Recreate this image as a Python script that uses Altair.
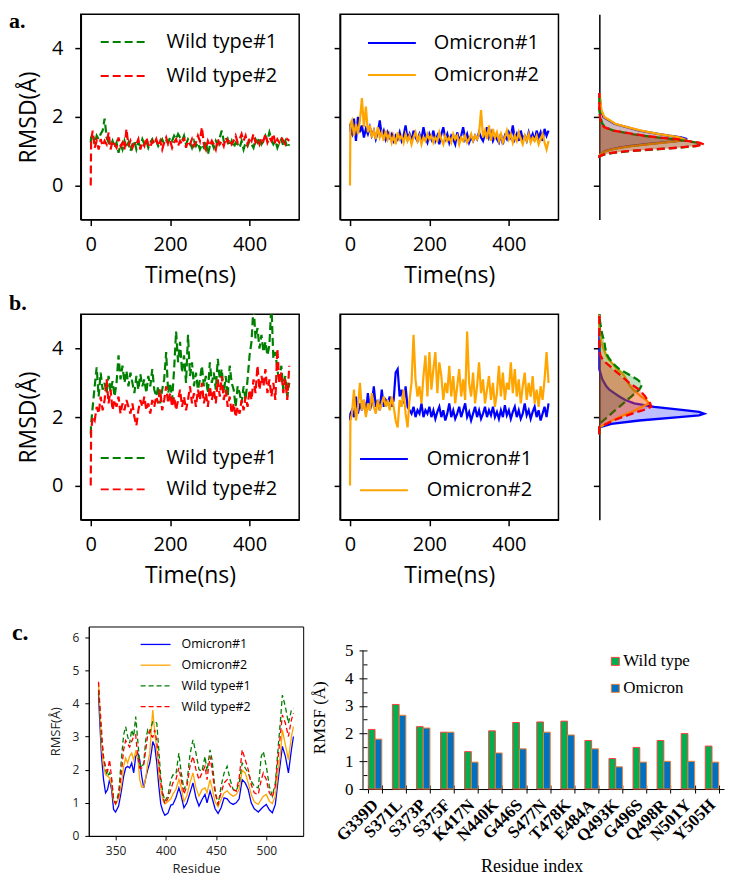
import altair as alt
import pandas as pd

SANS = "Open Sans"
SERIF = "Liberation Serif"

GREEN, RED, BLUE, ORANGE = "#008000", "#FF0000", "#0000FF", "#FFA500"

# ---------------- RMSD time series (ns) ----------------
time_ns = [0, 1] + list(range(5, 501, 5))

a_wt1 = [1.25, 1.4,
         1.5, 1.2, 1.45, 1.35, 1.5, 1.6, 1.95, 1.4, 1.25, 1.15,
         1.3, 1.1, 1.25, 0.95, 1.2, 1.05, 1.3, 1.1, 1.25, 1.0,
         1.2, 1.3, 1.05, 1.25, 1.15, 1.35, 1.2, 1.3, 1.1, 1.25,
         1.35, 1.2, 1.3, 1.15, 1.25, 1.35, 1.2, 1.3, 1.25, 1.4,
         1.3, 1.45, 1.35, 1.5, 1.4, 1.3, 1.45, 1.2, 1.35, 1.25,
         1.1, 1.3, 1.15, 1.25, 1.05, 1.2, 1.1, 1.3, 0.9, 1.15,
         1.25, 1.1, 1.3, 1.2, 1.4, 1.6, 1.3, 1.2, 1.35, 1.15,
         1.3, 1.1, 1.25, 1.2, 1.1, 1.3, 1.05, 1.25, 1.15, 1.3,
         1.2, 1.1, 1.35, 1.25, 1.4, 1.2, 1.3, 1.45, 1.3, 1.55,
         1.35, 1.2, 1.3, 1.1, 1.25, 1.35, 1.15, 1.3, 1.1, 1.2]
a_wt2 = [0.0, 1.3,
         1.6, 1.1, 1.3, 1.05, 1.35, 1.15, 1.3, 1.2, 1.55, 1.05,
         1.3, 1.2, 1.1, 1.4, 1.15, 1.25, 1.05, 1.65, 1.15, 1.3,
         1.1, 1.25, 1.2, 1.35, 1.05, 1.25, 1.15, 1.4, 1.2, 1.1,
         1.3, 1.2, 1.35, 1.15, 1.3, 1.05, 1.25, 1.4, 1.2, 1.3,
         1.1, 1.25, 1.35, 1.15, 1.3, 1.2, 1.4, 1.1, 1.3, 1.2,
         1.35, 1.15, 1.25, 1.45, 1.3, 1.7, 1.2, 1.05, 1.3, 1.15,
         1.3, 1.2, 1.05, 1.35, 1.2, 1.3, 1.15, 1.4, 1.25, 1.35,
         1.2, 1.3, 1.45, 1.25, 1.35, 1.5, 1.3, 1.45, 1.2, 1.4,
         1.3, 1.5, 1.25, 1.35, 1.2, 1.4, 1.3, 1.5, 1.25, 1.4,
         1.3, 1.5, 1.2, 1.35, 1.25, 1.4, 1.3, 1.2, 1.35, 1.3]
a_om1 = [1.8, 1.6,
         1.5, 1.95, 1.3, 2.0, 1.55, 1.75, 1.4, 1.65, 1.5, 1.7,
         1.45, 1.6, 1.35, 1.55, 1.9, 1.45, 1.6, 1.35, 1.55, 1.4,
         1.5, 1.3, 1.45, 1.35, 1.55, 1.3, 1.45, 1.75, 1.35, 1.5,
         1.3, 1.6, 1.4, 1.3, 1.5, 1.35, 1.7, 1.4, 1.25, 1.5,
         1.35, 1.6, 1.3, 1.45, 1.2, 1.5, 1.7, 1.35, 1.5, 1.25,
         1.45, 1.35, 1.2, 1.55, 1.3, 1.45, 1.7, 1.35, 1.5, 1.25,
         1.4, 1.3, 1.45, 1.35, 1.55, 1.4, 1.3, 1.5, 1.7, 1.4,
         1.55, 1.3, 1.45, 1.35, 1.25, 1.5, 1.2, 1.45, 1.35, 1.55,
         1.4, 1.75, 1.35, 1.5, 1.3, 1.6, 1.35, 1.45, 1.3, 1.55,
         1.35, 1.5, 1.3, 1.6, 1.4, 1.55, 1.3, 1.65, 1.45, 1.6]
a_om2 = [0.0, 1.8,
         1.9, 1.45, 1.8, 1.5, 1.9, 2.55, 1.7, 2.3, 1.55, 1.75,
         1.4, 1.6, 1.35, 1.7, 1.4, 1.55, 1.3, 1.6, 1.35, 1.5,
         1.25, 1.45, 1.2, 1.55, 1.35, 1.45, 1.25, 1.5, 1.3, 1.45,
         1.2, 1.4, 1.55, 1.3, 1.45, 1.2, 1.4, 1.3, 1.5, 1.35,
         1.45, 1.25, 1.4, 1.3, 1.55, 1.35, 1.2, 1.45, 1.3, 1.4,
         1.25, 1.5, 1.35, 1.45, 1.2, 1.4, 1.3, 1.45, 1.25, 1.35,
         1.5, 1.3, 1.45, 1.35, 1.5, 2.2, 1.4, 1.6, 1.35, 1.75,
         1.3, 1.65, 1.4, 1.55, 1.3, 1.5, 1.25, 1.4, 1.6, 1.35,
         1.5, 1.25, 1.45, 1.3, 1.55, 1.35, 1.2, 1.45, 1.3, 1.5,
         1.25, 1.4, 1.3, 1.45, 1.2, 1.35, 1.5, 1.25, 1.05, 1.3]

b_wt1 = [1.5, 1.8,
         2.3, 2.9, 3.45, 2.6, 3.3, 2.8, 3.0, 2.7, 3.2, 2.75,
         3.05, 2.6, 3.0, 3.8, 3.1, 3.5, 3.0, 3.35, 2.9, 3.3,
         3.0, 2.7, 3.2, 2.8, 3.25, 2.9, 3.1, 2.7, 3.2, 2.9,
         3.4, 2.8, 2.6, 2.9, 2.4, 2.8, 3.1, 3.9, 2.7, 3.0,
         2.5, 3.4, 4.5, 3.6, 4.2, 3.3, 3.8, 3.0, 4.4, 3.2,
         3.6, 2.9, 3.3, 2.8, 3.1, 3.5, 2.9, 3.2, 2.7, 3.6,
         3.0, 3.3, 2.8, 3.7, 3.1, 3.4, 2.7, 3.2, 2.6, 3.5,
         3.0, 2.8, 2.3, 2.9, 2.7, 2.4, 2.9, 2.5, 3.1, 3.8,
         4.2, 5.3, 4.3, 4.6, 4.0, 4.4, 3.9, 4.2, 3.8, 4.1,
         5.3, 3.7, 3.9, 3.4, 3.0, 3.5, 2.8, 3.2, 2.6, 3.0]
b_wt2 = [0.0, 1.6,
         2.0, 1.9, 2.3, 2.1, 2.6, 2.2, 2.5, 3.1, 2.4, 2.8,
         2.2, 2.5, 2.3, 2.6, 2.1, 2.4, 2.2, 2.5, 2.3, 2.1,
         2.4, 2.0, 1.75, 2.2, 2.5, 2.3, 2.6, 2.2, 2.4, 2.1,
         2.5, 2.3, 2.6, 2.4, 2.8, 2.2, 2.5, 2.9, 2.4, 2.7,
         2.3, 2.6, 2.2, 2.5, 2.8, 2.3, 2.6, 2.2, 2.5, 2.9,
         2.4, 2.7, 2.3, 2.8, 2.5, 3.0, 2.4, 2.7, 2.3, 2.9,
         2.5, 2.8, 2.4, 3.1, 2.6, 3.2, 2.5, 2.8, 2.3, 2.6,
         2.1, 2.4, 2.0, 2.3, 2.1, 2.5, 2.2, 2.6, 2.3, 2.8,
         2.5, 3.1, 2.7, 3.5, 2.8, 3.2, 2.9, 3.4, 2.7, 3.1,
         2.6, 3.0, 2.5, 4.0, 3.0, 3.3, 2.7, 3.1, 2.5, 3.5]
b_om1 = [1.9, 2.1,
         2.2, 2.0, 2.6, 2.1, 2.4, 2.2, 2.5, 2.1, 2.7, 2.2,
         2.4, 2.9, 2.3, 2.5, 2.2, 2.8, 2.3, 2.5, 2.4, 2.6,
         2.3, 2.5, 3.3, 3.4, 2.6, 2.8, 2.4, 2.9, 2.3, 2.2,
         2.1, 2.3, 2.0, 2.2, 2.1, 2.4, 2.0, 2.2, 2.1, 2.3,
         2.0, 2.2, 1.95, 2.15, 2.3, 2.0, 2.2, 1.9, 2.1, 2.4,
         2.0, 2.2, 1.95, 2.1, 2.3, 2.0, 2.2, 2.4, 2.0, 2.15,
         1.9, 2.1, 2.3, 2.0, 2.2, 1.95, 2.1, 2.3, 2.0, 2.2,
         2.05, 2.3, 2.0, 2.15, 1.95, 2.2, 2.0, 2.35, 2.05, 2.2,
         1.95, 2.15, 2.3, 2.0, 2.2, 1.95, 2.1, 2.4, 2.05, 2.2,
         1.95, 2.15, 2.3, 2.0, 2.2, 1.9, 2.1, 2.3, 2.0, 2.4]
b_om2 = [0.0, 1.9,
         2.1, 2.8, 1.9, 2.3, 3.0, 2.2, 2.5, 2.0, 2.4, 2.2,
         2.7, 2.3, 2.1, 2.5, 2.2, 2.4, 2.6, 2.3, 2.5, 2.2,
         2.6, 2.3, 1.9, 1.7, 2.5, 2.3, 2.8, 2.1, 1.7, 2.5,
         3.0, 4.4, 3.1, 2.6, 2.9, 2.4, 3.2, 3.8, 2.6, 3.9,
         2.8, 3.4, 3.9, 2.7, 3.6, 3.2, 2.5, 3.0, 2.7, 3.5,
         2.6, 3.2, 2.4, 2.9, 3.4, 2.6, 3.1, 2.5, 4.5, 3.0,
         2.6, 3.3, 2.4, 2.9, 3.6, 2.7, 3.1, 2.4, 2.8, 3.2,
         2.5, 3.0, 2.3, 2.7, 3.5, 2.6, 3.3, 2.5, 3.0, 2.8,
         3.6, 2.7, 3.4, 2.6, 3.1, 2.4, 2.9, 3.3, 2.5, 3.0,
         2.6, 3.2, 2.4, 2.8, 2.3, 2.9, 2.5, 3.1, 3.9, 3.0]

# ---------------- RMSD distributions (density vs RMSD) ----------------
dens_a_rmsd = [0.8, 0.85, 0.9, 0.95, 1.0, 1.05, 1.1, 1.15, 1.2, 1.25,
               1.3, 1.35, 1.4, 1.45, 1.5, 1.6, 1.7, 1.8, 2.0, 2.2, 2.5, 2.7]
dens_a_wt1 = [0, 0, 0.15, 0.42, 0.9, 1.65, 2.4, 2.88, 3.06, 2.94,
              2.58, 2.22, 1.74, 1.32, 0.99, 0.42, 0.18, 0.09, 0.03, 0, 0, 0]
dens_a_wt2 = [0, 0, 0.12, 0.36, 0.84, 1.56, 2.34, 2.91, 3.15, 3.0,
              2.64, 2.34, 1.8, 1.35, 1.05, 0.42, 0.15, 0.06, 0.02, 0, 0, 0]
dens_a_om1 = [0, 0, 0.03, 0.09, 0.18, 0.36, 0.6, 0.9, 1.35, 1.86,
              2.4, 2.64, 2.46, 2.1, 1.8, 1.2, 0.81, 0.45, 0.12, 0.05, 0.02, 0]
dens_a_om2 = [0, 0, 0.03, 0.09, 0.21, 0.39, 0.66, 0.99, 1.44, 1.95,
              2.4, 2.55, 2.4, 2.1, 1.8, 1.26, 0.84, 0.48, 0.15, 0.06, 0.03, 0]

dens_b_rmsd = [1.5, 1.6, 1.7, 1.8, 1.9, 2.0, 2.05, 2.1, 2.15, 2.2,
               2.3, 2.4, 2.5, 2.6, 2.7, 2.8, 2.9, 3.0, 3.1, 3.2,
               3.3, 3.4, 3.5, 3.6, 3.7, 3.8, 4.0, 4.2, 4.4, 4.6, 4.8, 5.0]
dens_b_om1 = [0, 0, 0, 0.36, 1.2, 2.4, 3.0, 3.15, 3.0, 2.55,
              1.65, 1.05, 0.78, 0.6, 0.45, 0.3, 0.21, 0.15, 0.09, 0.06,
              0.03, 0, 0, 0, 0, 0, 0, 0, 0, 0, 0, 0]
dens_b_om2 = [0, 0, 0, 0.18, 0.39, 0.6, 0.72, 0.84, 0.96, 1.08,
              1.29, 1.5, 1.41, 1.26, 1.14, 1.02, 0.93, 0.87, 0.81, 0.75,
              0.66, 0.54, 0.45, 0.36, 0.27, 0.21, 0.12, 0.06, 0.03, 0, 0, 0]
dens_b_wt1 = [0, 0, 0, 0, 0.12, 0.24, 0.3, 0.36, 0.42, 0.48,
              0.6, 0.72, 0.84, 0.96, 1.08, 1.2, 1.26, 1.26, 1.14, 0.96,
              0.78, 0.6, 0.48, 0.39, 0.3, 0.24, 0.18, 0.15, 0.09, 0.05, 0.02, 0]
dens_b_wt2 = [0, 0, 0, 0.21, 0.42, 0.69, 0.84, 0.99, 1.14, 1.32,
              1.56, 1.53, 1.44, 1.38, 1.29, 1.2, 1.05, 0.9, 0.78, 0.66,
              0.54, 0.42, 0.3, 0.18, 0.09, 0.03, 0, 0, 0, 0, 0, 0]

# ---------------- RMSF per residue ----------------
rmsf_res = [333, 334, 336, 338, 340, 342, 344, 346, 348, 350,
            353, 356, 358, 360, 362, 364, 366, 368, 370, 372,
            374, 376, 378, 380, 382, 384, 386, 387, 389, 391,
            393, 395, 397, 399, 402, 405, 407, 410, 413, 415,
            418, 421, 424, 427, 430, 433, 436, 439, 441, 444,
            446, 449, 452, 455, 458, 461, 464, 467, 470, 473,
            476, 479, 482, 485, 488, 492, 495, 497, 500, 503,
            506, 509, 512, 514, 516, 519, 522, 525, 527]
rmsf_om1 = [4.3, 3.6, 2.4, 1.7, 1.3, 1.4, 1.7, 1.4, 0.8, 0.72,
            0.9, 1.4, 1.8, 2.05, 2.1, 2.05, 2.2, 1.9, 2.4, 2.5,
            2.3, 1.8, 1.45, 1.75, 2.0, 2.2, 2.6, 2.85, 2.7, 2.2,
            1.5, 0.95, 0.75, 0.62, 0.68, 0.93, 0.95, 1.15, 1.45, 1.25,
            0.85, 1.0, 1.3, 1.6, 1.15, 0.9, 1.1, 1.25, 1.0, 1.35,
            1.15, 0.82, 0.68, 0.85, 1.15, 1.12, 1.0, 0.95, 1.0, 1.12,
            1.7, 1.6, 1.4, 1.0, 0.82, 0.72, 0.82, 0.88, 0.95, 0.79,
            0.7, 0.95, 1.75, 2.2, 2.7, 2.4, 1.9, 2.6, 3.0]
rmsf_om2 = [4.6, 4.0, 2.7, 2.1, 1.85, 1.8, 1.75, 1.5, 1.05, 0.95,
            1.12, 1.6, 2.1, 2.35, 2.2, 2.4, 2.5, 2.3, 2.55, 2.4,
            1.7, 1.47, 1.47, 1.75, 2.2, 2.5, 3.4, 3.8, 3.1, 2.6,
            1.9, 1.4, 1.08, 0.97, 1.03, 1.12, 1.26, 1.4, 1.7, 1.5,
            1.03, 1.22, 1.6, 1.9, 1.45, 1.2, 1.4, 1.45, 1.3, 1.7,
            1.45, 1.03, 0.88, 1.1, 1.3, 1.36, 1.26, 1.2, 1.25, 1.4,
            1.98, 1.9, 1.6, 1.25, 1.03, 0.95, 1.1, 1.2, 1.25, 1.05,
            0.97, 1.2, 2.0, 2.45, 3.2, 2.75, 2.3, 3.0, 3.3]
rmsf_wt1 = [4.4, 3.9, 2.9, 2.4, 2.0, 1.8, 1.9, 1.7, 1.1, 0.98,
            1.3, 2.4, 3.05, 3.3, 3.0, 2.8, 3.2, 3.0, 3.6, 2.9,
            2.2, 2.05, 2.2, 2.9, 3.2, 3.1, 3.35, 3.45, 3.45, 3.4,
            2.6, 1.75, 1.3, 1.05, 1.2, 1.7, 1.84, 1.85, 2.5, 1.98,
            1.4, 1.6, 2.45, 2.9, 2.5, 2.0, 1.95, 2.4, 1.95, 2.6,
            2.3, 1.4, 0.93, 1.5, 1.9, 2.1, 1.7, 1.4, 1.35, 1.6,
            2.2, 2.05, 1.9, 1.65, 1.5, 1.45, 2.4, 2.55, 2.1, 1.5,
            1.2, 1.6, 2.75, 3.45, 4.25, 3.9, 3.4, 3.8, 3.85]
rmsf_wt2 = [4.65, 4.1, 3.2, 2.3, 2.1, 1.95, 2.3, 1.75, 1.1, 0.98,
            1.2, 1.98, 2.6, 2.88, 2.78, 2.68, 2.85, 3.0, 3.05, 2.4,
            2.05, 2.05, 2.15, 2.6, 3.05, 3.18, 3.0, 2.98, 3.2, 2.85,
            2.2, 1.6, 1.2, 0.97, 1.12, 1.4, 1.6, 1.7, 2.05, 1.75,
            1.26, 1.5, 2.1, 2.4, 2.0, 1.7, 1.9, 2.1, 1.7, 2.4,
            2.0, 1.3, 0.97, 1.3, 1.6, 1.7, 1.5, 1.4, 1.35, 1.75,
            2.6, 2.3, 2.0, 1.55, 1.3, 1.25, 1.7, 1.9, 1.7, 1.3,
            1.17, 1.5, 2.45, 3.05, 3.65, 3.4, 3.0, 3.5, 3.7]

# ---------------- RMSF at mutation sites ----------------
mutations = ["G339D", "S371L", "S373P", "S375F", "K417N", "N440K", "G446S", "S477N",
             "T478K", "E484A", "Q493K", "G496S", "Q498R", "N501Y", "Y505H"]
site_wt = [2.15, 3.05, 2.25, 2.05, 1.35, 2.1, 2.4, 2.42, 2.45, 1.75, 1.1, 1.5, 1.75, 2.0, 1.55]
site_om = [1.8, 2.66, 2.2, 2.05, 0.97, 1.3, 1.45, 2.05, 1.95, 1.45, 0.8, 0.97, 1.0, 1.0, 0.97]
bar_types = ["Wild type", "Omicron"]
bar_y_major = [0, 1, 2, 3, 4, 5]
bar_y_minor = [0, 0.5, 1, 1.5, 2, 2.5, 3, 3.5, 4, 4.5, 5]


# ---------------- helpers ----------------
def legend_layers(labels, colors, dashes, x0, x1, xt, y0, dy, font, size, width):
    out = []
    for i, (lab, col, dash) in enumerate(zip(labels, colors, dashes)):
        y = y0 + i * dy
        src = alt.Chart(pd.DataFrame({"label": [lab]}))
        kw = {"color": col, "strokeWidth": width}
        if dash:
            kw["strokeDash"] = dash
        out.append(src.mark_rule(**kw).encode(x=alt.value(x0), x2=alt.value(x1), y=alt.value(y)))
        out.append(src.mark_text(align="left", baseline="middle", font=font, fontSize=size,
                                 color="black").encode(x=alt.value(xt), y=alt.value(y), text="label:N"))
    return out


def row_marker(letter, lx, ly, size, rx, ry0, ry1):
    src = alt.Chart(pd.DataFrame({"label": [letter]}))
    txt = src.mark_text(align="left", baseline="alphabetic", font=SERIF, fontSize=size,
                        fontWeight="bold", color="black").encode(
        x=alt.value(lx), y=alt.value(ly), text="label:N")
    rule = src.mark_rule(opacity=0).encode(x=alt.value(rx), y=alt.value(ry0), y2=alt.value(ry1))
    return [txt, rule]


AXIS_A = dict(labelFont=SANS, labelFontSize=20, labelColor="black",
              titleFont=SANS, titleFontSize=23, titleFontWeight="normal", titleColor="black",
              tickColor="black", tickWidth=1.5, tickSize=6,
              domainColor="black", domainWidth=1.5, grid=False)

DASH_A = [8, 4]


def rmsd_panel(series, colors, dashed, first, legend, extra):
    xenc = alt.X("t:Q", scale=alt.Scale(domain=[-25, 525], nice=False, zero=False),
                 axis=alt.Axis(values=[0, 200, 400], title="Time(ns)", labelPadding=9,
                               titlePadding=10, **AXIS_A))
    ykw = dict(values=[0, 2, 4], labels=first, labelPadding=12, titlePadding=11, **AXIS_A)
    yaxis = alt.Axis(title="RMSD(Å)", **ykw) if first else alt.Axis(title=None, **ykw)
    yenc = alt.Y("v:Q", scale=alt.Scale(domain=[-1, 5], nice=False, zero=False), axis=yaxis)
    layers = []
    for vals, col, dash in zip(series, colors, dashed):
        kw = dict(color=col, strokeWidth=2.2, clip=True)
        if dash:
            kw["strokeDash"] = DASH_A
        layers.append(alt.Chart(pd.DataFrame({"t": time_ns, "v": vals})).mark_line(**kw)
                      .encode(x=xenc, y=yenc))
    layers += legend
    layers += extra
    return alt.layer(*layers).properties(width=219, height=206)


def density_panel(grid, series, colors, dashed):
    yenc = alt.Y("r:Q", scale=alt.Scale(domain=[-1, 5], nice=False, zero=False),
                 axis=alt.Axis(values=[0, 2, 4], labels=False, title=None, tickSize=6,
                               tickColor="black", tickWidth=1.5, domainColor="black",
                               domainWidth=1.5, grid=False))
    xenc = alt.X("d:Q", scale=alt.Scale(domain=[0, 3.3], nice=False), axis=None)
    layers = []
    for vals, col, dash in zip(series, colors, dashed):
        df = pd.DataFrame({"r": grid, "d": vals})
        layers.append(alt.Chart(df).mark_area(orient="horizontal", color=col, opacity=0.25)
                      .encode(x=xenc, y=yenc))
        kw = dict(color=col, strokeWidth=2.3)
        if dash:
            kw["strokeDash"] = DASH_A
        layers.append(alt.Chart(df).mark_line(**kw).encode(x=xenc, y=yenc, order=alt.Order("r:Q")))
    return alt.layer(*layers).properties(width=110, height=206,
                                         view=alt.ViewBackground(stroke="transparent"))


# ---------------- row a ----------------
a1 = rmsd_panel([a_wt1, a_wt2], [GREEN, RED], [True, True], True,
                legend_layers(["Wild type#1", "Wild type#2"], [GREEN, RED], [DASH_A, DASH_A],
                              20, 67, 86, 28, 34, SANS, 20, 2),
                row_marker("a.", -72, 14, 22, -72, -4, 274))
a2 = rmsd_panel([a_om1, a_om2], [BLUE, ORANGE], [False, False], False,
                legend_layers(["Omicron#1", "Omicron#2"], [BLUE, ORANGE], [None, None],
                              28, 76, 94, 29, 32, SANS, 20, 2), [])
a3 = density_panel(dens_a_rmsd, [dens_a_om1, dens_a_om2, dens_a_wt1, dens_a_wt2],
                   [BLUE, ORANGE, GREEN, RED], [False, False, True, True])
row_a = alt.hconcat(a1, a2, a3, spacing=41, bounds="flush")

# ---------------- row b ----------------
b1 = rmsd_panel([b_wt1, b_wt2], [GREEN, RED], [True, True], True,
                legend_layers(["Wild type#1", "Wild type#2"], [GREEN, RED], [DASH_A, DASH_A],
                              20, 67, 86, 144, 31.5, SANS, 20, 2),
                row_marker("b.", -72, -4, 22, -72, -25, 285))
b2 = rmsd_panel([b_om1, b_om2], [BLUE, ORANGE], [False, False], False,
                legend_layers(["Omicron#1", "Omicron#2"], [BLUE, ORANGE], [None, None],
                              20, 68, 87, 145, 31.5, SANS, 20, 2), [])
b3 = density_panel(dens_b_rmsd, [dens_b_om1, dens_b_om2, dens_b_wt1, dens_b_wt2],
                   [BLUE, ORANGE, GREEN, RED], [False, False, True, True])
row_b = alt.hconcat(b1, b2, b3, spacing=41, bounds="flush")

# ---------------- row c : RMSF lines ----------------
AXIS_C = dict(labelFont=SANS, labelFontSize=12, labelColor="#222",
              titleFont=SANS, titleFontSize=13, titleFontWeight="normal", titleColor="#222",
              tickColor="black", tickSize=4, tickWidth=1,
              domainColor="black", domainWidth=1, grid=False)
cx = alt.X("res:Q", scale=alt.Scale(domain=[323.3, 536.7], nice=False, zero=False),
           axis=alt.Axis(values=[350, 400, 450, 500], title="Residue", labelPadding=6,
                         titlePadding=6, **AXIS_C))
cy = alt.Y("v:Q", scale=alt.Scale(domain=[0, 6.32], nice=False),
           axis=alt.Axis(values=[0, 1, 2, 3, 4, 5, 6], title="RMSF(Å)", labelPadding=6,
                         titlePadding=9, **AXIS_C))
DASH_C = [5, 3]
c_layers = []
for vals, col, dash in [(rmsf_om1, BLUE, None), (rmsf_om2, ORANGE, None),
                        (rmsf_wt1, GREEN, DASH_C), (rmsf_wt2, RED, DASH_C)]:
    kw = dict(color=col, strokeWidth=1.3)
    if dash:
        kw["strokeDash"] = dash
    c_layers.append(alt.Chart(pd.DataFrame({"res": rmsf_res, "v": vals})).mark_line(**kw)
                    .encode(x=cx, y=cy))
c_layers += legend_layers(["Omicron#1", "Omicron#2", "Wild type#1", "Wild type#2"],
                          [BLUE, ORANGE, GREEN, RED], [None, None, DASH_C, DASH_C],
                          52, 82, 93, 18, 20.8, SANS, 12.5, 1.3)
rmsf_chart = alt.layer(*c_layers).properties(
    width=215, height=210, view=alt.ViewBackground(stroke="black", strokeWidth=1))

# ---------------- row c : bars ----------------
bar_df = pd.DataFrame({"mut": mutations + mutations,
                       "type": [bar_types[0]] * len(mutations) + [bar_types[1]] * len(mutations),
                       "v": site_wt + site_om})
bar_fill = ["#00B050", "#0070C0"]
bar_edge = ["#FF4040", "#ED7D31"]
xscale = alt.Scale(paddingInner=0.44, paddingOuter=0.22)
yscale = alt.Scale(domain=[0, 5.863], nice=False, zero=True)
AXIS_B = dict(labelFont=SERIF, labelColor="black", titleFont=SERIF, titleColor="black",
              titleFontWeight="normal", tickColor="black", tickWidth=1,
              domainColor="black", domainWidth=1, grid=False)

bars = alt.Chart(bar_df).mark_bar(strokeWidth=1).encode(
    x=alt.X("mut:N", sort=mutations, scale=xscale,
            axis=alt.Axis(title="Residue index", titleFontSize=18, labelFontSize=17,
                          labelFontWeight="bold", labelAngle=-45, labelAlign="right",
                          labelBaseline="middle", labelPadding=9, labelOverlap=False,
                          tickBand="extent", tickSize=4, titleX=169, titleY=69, **AXIS_B)),
    xOffset=alt.XOffset("type:N", sort=bar_types),
    y=alt.Y("v:Q", scale=yscale,
            axis=alt.Axis(values=bar_y_major, title="RMSF (Å)", titleFontSize=17,
                          labelFontSize=17, tickSize=4, labelPadding=6, domain=False,
                          titlePadding=16, titleY=91, **AXIS_B)),
    fill=alt.Fill("type:N", scale=alt.Scale(domain=bar_types, range=bar_fill), legend=None),
    stroke=alt.Stroke("type:N", scale=alt.Scale(domain=bar_types, range=bar_edge), legend=None),
)
inner_ticks = alt.Chart(bar_df).mark_point(opacity=0).encode(
    x=alt.X("mut:N", sort=mutations, scale=xscale,
            axis=alt.Axis(orient="bottom", offset=-4, labels=False, domain=False, title=None,
                          tickSize=4, tickBand="extent", tickColor="black", tickWidth=1,
                          grid=False)),
    y=alt.Y("v:Q", scale=yscale,
            axis=alt.Axis(orient="left", offset=-4, values=bar_y_minor, labels=False,
                          domain=False, title=None, tickSize=4, tickColor="black",
                          tickWidth=1, grid=False)),
)
y_line = alt.Chart(pd.DataFrame({"lo": [bar_y_major[0]], "hi": [bar_y_major[-1]]})).mark_rule(
    color="black", strokeWidth=1).encode(
    x=alt.value(0), y=alt.Y("lo:Q", scale=yscale, axis=None), y2="hi:Q")
bar_leg = []
for i, t in enumerate(bar_types):
    src = alt.Chart(pd.DataFrame({"label": [t]}))
    bar_leg.append(src.mark_square(size=64, fill=bar_fill[i], stroke=bar_edge[i],
                                   strokeWidth=1, opacity=1).encode(
        x=alt.value(253), y=alt.value(35 + 27 * i)))
    bar_leg.append(src.mark_text(align="left", baseline="middle", font=SERIF, fontSize=17,
                                 color="black").encode(
        x=alt.value(261), y=alt.value(35 + 27 * i), text="label:N"))
bar_chart = alt.layer(bars, inner_ticks, y_line, *bar_leg).resolve_axis(
    x="independent", y="independent").properties(
    width=362, height=163, view=alt.ViewBackground(stroke="transparent"))

spacer = alt.layer(*row_marker("c.", -69, 14, 24, -72, -26, 252)).properties(
    width=8, height=10, view=alt.ViewBackground(stroke="transparent"))
row_c = alt.hconcat(spacer, alt.hconcat(rmsf_chart, bar_chart, spacing=60, bounds="flush"),
                    spacing=0, bounds="flush")

chart = alt.vconcat(row_a, row_b, row_c, spacing=0, padding=0).configure_view(
    stroke="black", strokeWidth=1.5)

chart.save("out.html", embed_options={"renderer": "svg", "actions": False})
